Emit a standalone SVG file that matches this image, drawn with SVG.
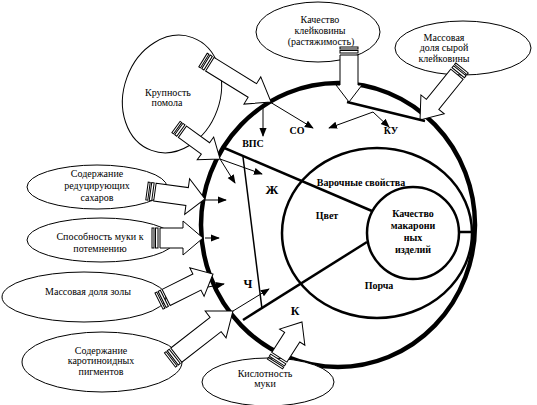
<svg xmlns="http://www.w3.org/2000/svg" width="537" height="405" viewBox="0 0 537 405">
<style>
.bg{fill:#fff}
.node{fill:#fff;stroke:#000;stroke-width:1}
text{font-family:'Liberation Serif','DejaVu Serif','Times New Roman',serif;fill:#000;text-anchor:middle}
.t{font-size:10px}
.b{font-weight:bold;font-size:10px}
.blk{fill:#fff;stroke:#000;stroke-width:1}
.thin{fill:none;stroke:#000;stroke-width:1;marker-end:url(#ah)}
.sect{fill:none;stroke:#000;stroke-width:2.5}
</style>
<defs>
<marker id="ah" viewBox="0 0 10 10" refX="9" refY="5" markerWidth="9" markerHeight="9" markerUnits="userSpaceOnUse" orient="auto"><path d="M0,1 L10,5 L0,9 Z" fill="#000"/></marker>
</defs>
<rect class="bg" x="0" y="0" width="537" height="405"/>

<g id="structure">
<ellipse cx="338" cy="225" rx="137" ry="142" fill="none" stroke="#000" stroke-width="4.5"/>
<ellipse cx="377" cy="233" rx="95" ry="85" fill="none" stroke="#000" stroke-width="2.5"/>
</g>

<g id="quality">
<circle cx="413" cy="233" r="46" fill="#fff" stroke="#000" stroke-width="2.5"/>
<line x1="459" y1="232" x2="475" y2="232" stroke="#000" stroke-width="2.5"/>
<text class="b" x="413" y="217" font-family="Liberation Serif, serif">Качество</text>
<text class="b" x="413" y="229" font-family="Liberation Serif, serif">макарони</text>
<text class="b" x="413" y="241" font-family="Liberation Serif, serif">ных</text>
<text class="b" x="413" y="253" font-family="Liberation Serif, serif">изделий</text>
</g>

<g id="n-klei">
<ellipse class="node" cx="318" cy="32" rx="62" ry="30"/>
<text class="t" x="320" y="23">Качество</text>
<text class="t" x="320" y="34">клейковины</text>
<text class="t" x="321" y="45">(растяжимость)</text>
</g>
<g id="n-syr">
<ellipse class="node" cx="463" cy="48" rx="68" ry="27"/>
<text class="t" x="444" y="40.5">Массовая</text>
<text class="t" x="444" y="51">доля сырой</text>
<text class="t" x="444" y="61.5">клейковины</text>
</g>
<g id="n-krup">
<ellipse class="node" cx="172" cy="94" rx="48" ry="60" transform="rotate(20 172 94)"/>
<text class="t" x="168" y="95.5">Крупность</text>
<text class="t" x="167" y="106">помола</text>
</g>
<g id="n-sah">
<ellipse class="node" cx="97" cy="187" rx="70" ry="22"/>
<text class="t" x="97" y="176.5">Содержание</text>
<text class="t" x="97" y="188.5">редуцирующих</text>
<text class="t" x="97" y="200.5">сахаров</text>
</g>
<g id="n-pot">
<ellipse class="node" cx="101" cy="240" rx="74" ry="22"/>
<text class="t" x="100" y="240">Способность муки к</text>
<text class="t" x="100" y="251.5">потемнению</text>
</g>
<g id="n-zol">
<ellipse class="node" cx="84" cy="297" rx="82" ry="25"/>
<text class="t" x="88" y="295">Массовая доля золы</text>
</g>
<g id="n-kar">
<ellipse class="node" cx="102" cy="362" rx="80" ry="30"/>
<text class="t" x="101" y="353.5">Содержание</text>
<text class="t" x="101" y="364">каротиноидных</text>
<text class="t" x="101" y="375">пигментов</text>
</g>
<g id="n-kisl">
<ellipse class="node" cx="268" cy="382" rx="66" ry="24"/>
<text class="t" x="265" y="376.5">Кислотность</text>
<text class="t" x="265" y="387">муки</text>
</g>

<g id="connectors">
<g class="blk">
<g transform="translate(203,60) rotate(31.7)"><rect x="0" y="-8" width="2" height="16"/><rect x="3.5" y="-8" width="2.5" height="16"/><path d="M8,-8 H58 V-16 L80,0 L58,16 V8 H8 Z"/></g>
<g transform="translate(176,127) rotate(36)"><rect x="0" y="-7" width="2" height="14"/><rect x="3.5" y="-7" width="2.5" height="14"/><path d="M8,-7 H36.4 V-14 L54.4,0 L36.4,14 V7 H8 Z"/></g>
<g transform="translate(147,191) rotate(7.85)"><rect x="0" y="-9" width="2" height="18"/><rect x="3.5" y="-9" width="2.5" height="18"/><path d="M8,-9 H40.5 V-18 L58.5,0 L40.5,18 V9 H8 Z"/></g>
<g transform="translate(152,238)"><rect x="0" y="-10" width="2" height="20"/><rect x="3.5" y="-10" width="2.5" height="20"/><path d="M8,-10 H31 V-17 L51,0 L31,17 V10 H8 Z"/></g>
<g transform="translate(159,301) rotate(-26.57)"><rect x="0" y="-9" width="2" height="18"/><rect x="3.5" y="-9" width="2.5" height="18"/><path d="M8,-9 H42.4 V-16 L60.4,0 L42.4,16 V9 H8 Z"/></g>
<g transform="translate(170,360) rotate(-37.9)"><rect x="0" y="-9" width="2" height="18"/><rect x="3.5" y="-9" width="2.5" height="18"/><path d="M8,-9 H57.8 V-17 L79.8,0 L57.8,17 V9 H8 Z"/></g>
<g transform="translate(275,364) rotate(-57.3)"><rect x="0" y="-9" width="2" height="18"/><rect x="3.5" y="-9" width="2.5" height="18"/><path d="M8,-9 H31.9 V-15 L49.9,0 L31.9,15 V9 H8 Z"/></g>
<g transform="translate(349,47) rotate(90)"><rect x="0" y="-9" width="2" height="18"/><rect x="3.5" y="-9" width="2.5" height="18"/><path d="M8,-9 H38 V-13 L55,0 L38,13 V9 H8 Z"/></g>
<g transform="translate(462,68) rotate(128.93)"><rect x="0" y="-8" width="2" height="16"/><rect x="3.5" y="-8" width="2.5" height="16"/><path d="M8,-8 H46.8 V-15 L66.8,0 L46.8,15 V8 H8 Z"/></g>
</g>
<line class="sect" x1="222" y1="147" x2="372" y2="211"/>
<line class="sect" x1="367" y1="242" x2="243" y2="320"/>
<line class="sect" x1="347" y1="102" x2="425" y2="121"/>
<line x1="243" y1="157" x2="262" y2="309" stroke="#000" stroke-width="1.5"/>
<line class="thin" x1="270" y1="102" x2="313" y2="128"/>
<line class="thin" x1="263" y1="104" x2="263" y2="136"/>
<line class="thin" x1="373" y1="112" x2="329" y2="128"/>
<line class="thin" x1="373" y1="112" x2="389" y2="127"/>
<line class="thin" x1="220" y1="159" x2="235" y2="183"/>
<line class="thin" x1="220" y1="159" x2="262" y2="174"/>
<line class="thin" x1="205" y1="200" x2="226" y2="200"/>
<line class="thin" x1="205" y1="238" x2="219" y2="238"/>
<line class="thin" x1="208" y1="287" x2="224" y2="284"/>
<line class="thin" x1="233" y1="311" x2="269" y2="289"/>
</g>

<g id="labels">
<text class="b" x="253" y="147">ВПС</text>
<text class="b" x="297" y="134">СО</text>
<text class="b" x="391" y="134">КУ</text>
<text class="b" x="272" y="194" style="font-size:13px">Ж</text>
<text class="b" x="248" y="288" style="font-size:12px">Ч</text>
<text class="b" x="295" y="315" style="font-size:12px">К</text>
<text class="b" x="361" y="185.5">Варочные свойства</text>
<text class="b" x="327" y="218.5">Цвет</text>
<text class="b" x="379" y="288.5">Порча</text>
</g>
</svg>
